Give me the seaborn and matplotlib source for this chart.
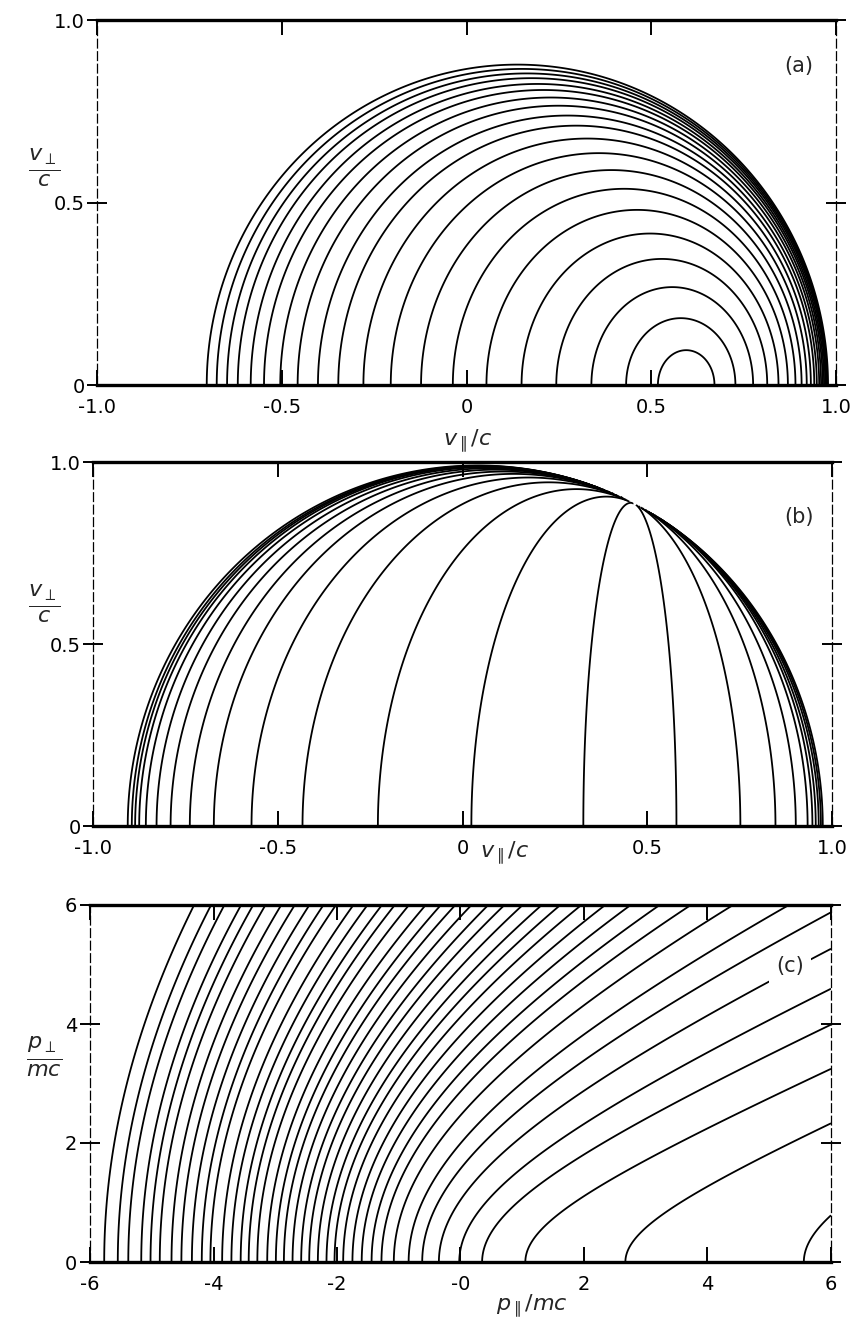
import numpy as np
import matplotlib
matplotlib.use("Agg")
import matplotlib.pyplot as plt
import seaborn as sns

# ---------------- data ----------------
# (a) resonance-type contours gamma*(1 - beta_a * v_par) in velocity space
beta_a = 0.6
cross_a = [-0.703, -0.676, -0.648, -0.619, -0.584, -0.548, -0.504, -0.457,
           -0.402, -0.347, -0.279, -0.205, -0.123, -0.037, 0.054, 0.149,
           0.243, 0.338, 0.432, 0.518]          # v_par/c where contours meet v_perp = 0

# (b) gamma*(1 - n_b * v_par) in velocity space
n_b = 2.15
cross_b = [-0.906, -0.895, -0.886, -0.875, -0.857, -0.828, -0.790, -0.738,
           -0.673, -0.571, -0.433, -0.229, 0.024, 0.327, 0.579, 0.752,
           0.847, 0.902, 0.934, 0.947, 0.956, 0.964, 0.970, 0.975]

# (c) gamma - beta_c * p_par in momentum space
beta_c = 1.1
cross_c = [-5.77, -5.55, -5.38, -5.17, -5.02, -4.87, -4.68, -4.52, -4.35, -4.19,
           -4.05, -3.86, -3.71, -3.56, -3.43, -3.29, -3.13, -2.99, -2.86,
           -2.72, -2.58, -2.45, -2.31, -2.17, -2.04, -1.90, -1.75, -1.60,
           -1.44, -1.28, -1.08, -0.84, -0.62, -0.35, -0.02, 0.35, 1.05,
           2.67, 5.56]

xt_v = [-1.0, -0.5, 0.0, 0.5, 1.0]
xt_v_lab = ["-1.0", "-0.5", "0", "0.5", "1.0"]
yt_v = [0.0, 0.5, 1.0]
yt_v_lab = ["0", "0.5", "1.0"]
xt_p = [-6, -4, -2, 0, 2, 4, 6]
xt_p_lab = ["-6", "-4", "-2", "-0", "2", "4", "6"]
yt_p = [0, 2, 4, 6]
yt_p_lab = ["0", "2", "4", "6"]

# ---------------- style ----------------
sns.set_theme(style="white")
plt.rcParams["font.family"] = ["DejaVu Sans"]
plt.rcParams["mathtext.fontset"] = "dejavusans"

W, H = 850, 1334
fig = plt.figure(figsize=(W / 100, H / 100), dpi=100)
fig.patch.set_facecolor("white")


def rect(l, r, t, b):
    return [l / W, 1 - b / H, (r - l) / W, (b - t) / H]


def field_v(vx, vy, k):
    vx = np.asarray(vx, float)
    vy = np.asarray(vy, float)
    v2 = vx ** 2 + vy ** 2
    out = np.full(np.broadcast(vx, vy).shape, np.nan)
    ok = v2 < 1
    out[ok] = ((1 - k * vx) / np.sqrt(np.where(ok, 1 - v2, 1)))[ok]
    return out


def field_p(px, py, k):
    return np.sqrt(1 + px ** 2 + py ** 2) - k * px


def style_axes(ax, xt, xl, yt, yl):
    for s in ("top", "bottom"):
        ax.spines[s].set_linewidth(2.4)
        ax.spines[s].set_color("black")
    for s in ("left", "right"):
        ax.spines[s].set_linewidth(0.9)
        ax.spines[s].set_color("black")
        ax.spines[s].set_linestyle((0, (7, 3)))
    ax.set_xticks(xt)
    ax.set_xticklabels(xl)
    ax.set_yticks(yt)
    ax.set_yticklabels(yl)
    ax.tick_params(axis="x", direction="in", top=True, bottom=True, length=11, width=1.4,
                   labelsize=14, colors="black", pad=9)
    ax.tick_params(axis="y", direction="inout", left=True, right=True, length=14, width=1.4,
                   labelsize=14, colors="black", pad=2)
    ax.grid(False)
    ax.set_facecolor("white")


lw = 1.3

# ---------------- (a) ----------------
ax = fig.add_axes(rect(97, 836, 20, 385))
vx = np.linspace(-1, 1, 1801)
vy = np.linspace(0, 1, 901)
VX, VY = np.meshgrid(vx, vy)
Fa = field_v(VX, VY, beta_a)
lev_a = np.sort(field_v(np.array(cross_a), np.zeros(len(cross_a)), beta_a))
ax.contour(VX, VY, Fa, levels=lev_a, colors="black", linewidths=lw, linestyles="solid")
ax.set_xlim(-1, 1)
ax.set_ylim(0, 1)
style_axes(ax, xt_v, xt_v_lab, yt_v, yt_v_lab)
ax.text(0.95, 0.875, "(a)", transform=ax.transAxes, fontsize=15, ha="center", va="center")

# ---------------- (b) ----------------
ax = fig.add_axes(rect(93, 832, 462, 826))
Fb = field_v(VX, VY, n_b)
lev_b = np.sort(field_v(np.array(cross_b), np.zeros(len(cross_b)), n_b))
ax.contour(VX, VY, Fb, levels=lev_b, colors="black", linewidths=lw, linestyles="solid")
ax.set_xlim(-1, 1)
ax.set_ylim(0, 1)
style_axes(ax, xt_v, xt_v_lab, yt_v, yt_v_lab)
ax.text(0.955, 0.85, "(b)", transform=ax.transAxes, fontsize=15, ha="center", va="center")

# ---------------- (c) ----------------
ax = fig.add_axes(rect(90, 831, 905, 1262))
px = np.linspace(-6, 6, 1201)
py = np.linspace(0, 6, 601)
PX, PY = np.meshgrid(px, py)
Fc = field_p(PX, PY, beta_c)
lev_c = np.sort(field_p(np.array(cross_c), 0.0, beta_c))
ax.contour(PX, PY, Fc, levels=lev_c, colors="black", linewidths=lw, linestyles="solid")
ax.set_xlim(-6, 6)
ax.set_ylim(0, 6)
style_axes(ax, xt_p, xt_p_lab, yt_p, yt_p_lab)
ax.text(0.945, 0.83, "(c)", transform=ax.transAxes, fontsize=15, ha="center", va="center",
        bbox=dict(facecolor="white", edgecolor="none", pad=5), zorder=5)

# ---------------- axis titles ----------------
fs_lab = 16
fig.text(468 / W, 1 - 441 / H, r"$v_{\parallel}/c$", fontsize=fs_lab, ha="center", va="center")
fig.text(505 / W, 1 - 853 / H, r"$v_{\parallel}/c$", fontsize=fs_lab, ha="center", va="center")
fig.text(532 / W, 1 - 1306 / H, r"$p_{\parallel}/mc$", fontsize=fs_lab, ha="center", va="center")
fig.text(44 / W, 1 - 168 / H, r"$\frac{v_{\perp}}{c}$", fontsize=23, ha="center", va="center")
fig.text(44 / W, 1 - 604 / H, r"$\frac{v_{\perp}}{c}$", fontsize=23, ha="center", va="center")
fig.text(44 / W, 1 - 1057 / H, r"$\frac{p_{\perp}}{mc}$", fontsize=23, ha="center", va="center")

fig.savefig("out.png", dpi=100, facecolor="white")
